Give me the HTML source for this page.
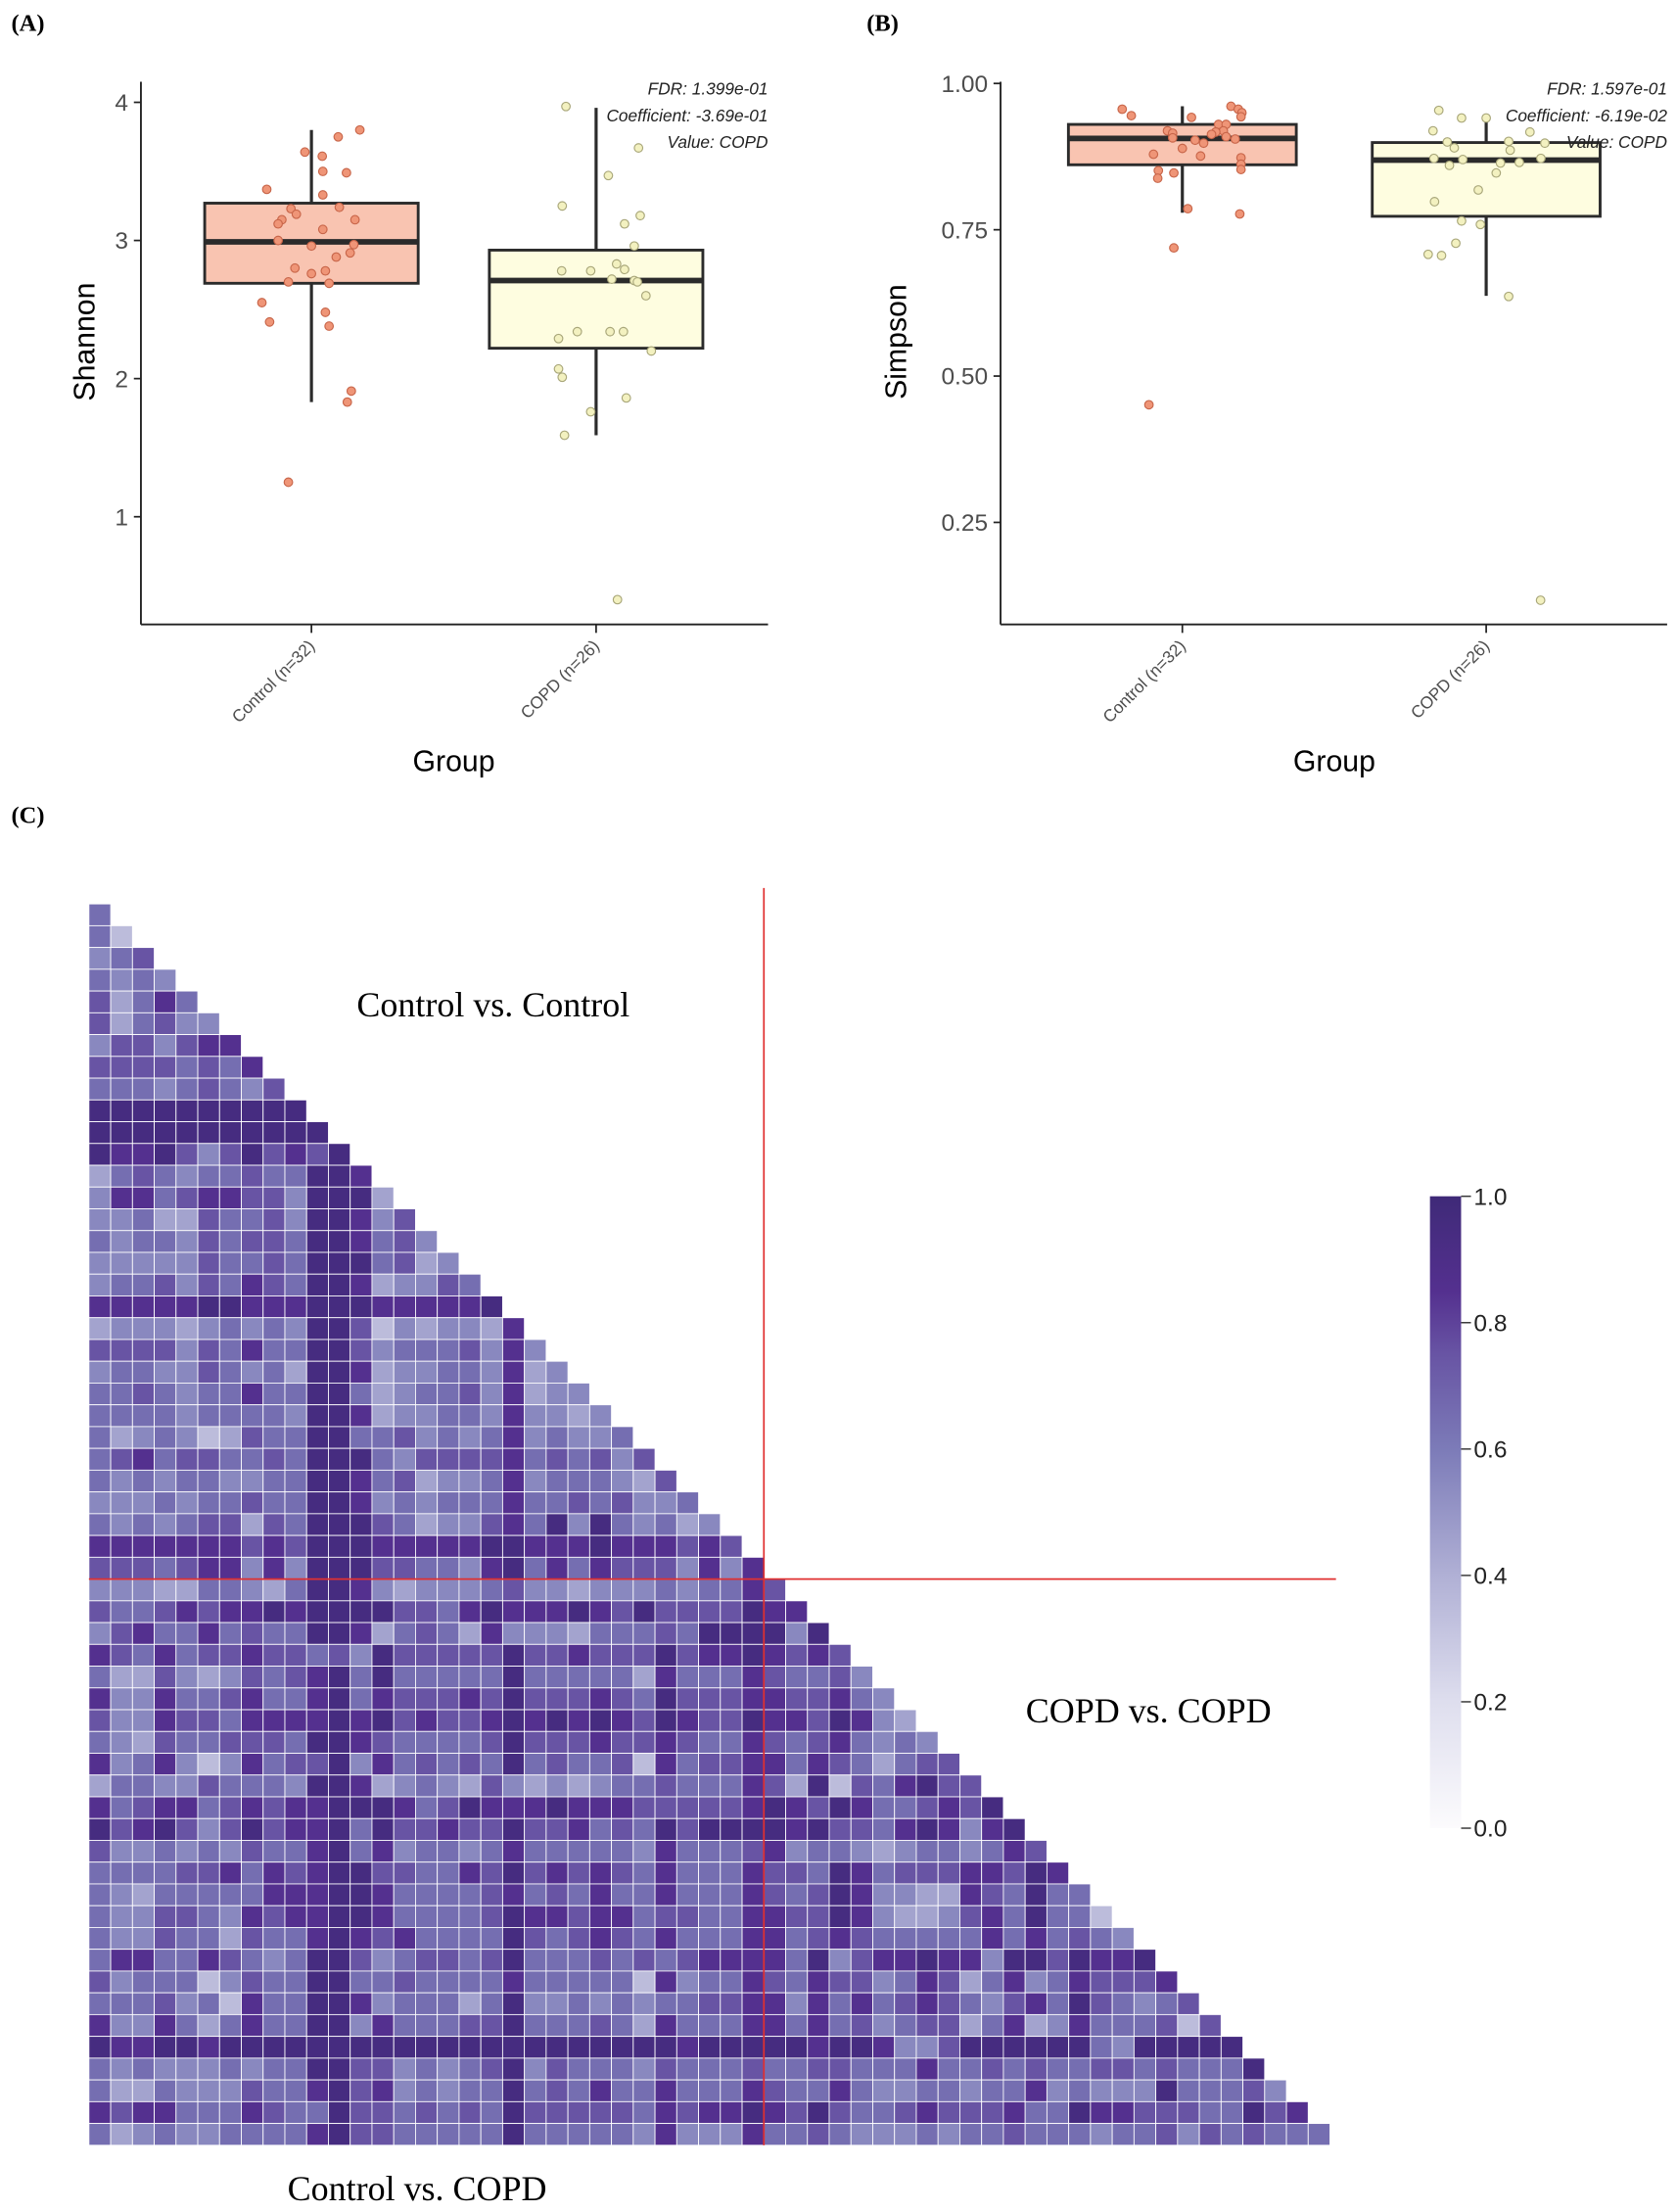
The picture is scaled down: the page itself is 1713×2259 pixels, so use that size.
<!DOCTYPE html>
<html><head><meta charset="utf-8"><style>
html,body{margin:0;padding:0;background:#fff}
svg{display:block}
.t{font-family:"Liberation Sans",sans-serif;fill:#4d4d4d}
.s{font-family:"Liberation Serif",serif;fill:#000}
</style></head><body>
<svg id="fig" xmlns="http://www.w3.org/2000/svg" width="1713" height="2259" viewBox="0 0 1190 1569.3" preserveAspectRatio="none">
<rect width="1190" height="1570" fill="#fff"/>
<g id="pa"></g>
<g id="pb"></g>
<g id="pc"></g>
</svg>
<script>
const groups=["Control (n=32)","COPD (n=26)"];
const shanCtrl=[3.80,3.75,3.64,3.61,3.50,3.49,3.37,3.33,3.24,3.23,3.19,3.15,3.15,3.12,3.08,3.00,2.97,2.96,2.91,2.88,2.80,2.78,2.76,2.70,2.69,2.55,2.48,2.41,2.38,1.91,1.83,1.25];
const shanCtrlJit=[0.17,0.094,-0.023,0.038,0.04,0.123,-0.157,0.04,0.098,-0.072,-0.053,-0.104,0.153,-0.117,0.04,-0.117,0.149,0,0.136,0.087,-0.058,0.049,0,-0.081,0.062,-0.174,0.049,-0.147,0.062,0.14,0.126,-0.081];
const shanCopd=[3.97,3.67,3.47,3.25,3.18,3.12,2.96,2.83,2.78,2.78,2.79,2.72,2.71,2.70,2.60,2.34,2.34,2.34,2.29,2.20,2.07,2.01,1.86,1.76,1.59,0.40];
const shanCopdJit=[-0.106,0.149,0.043,-0.119,0.155,0.10,0.134,0.072,-0.121,-0.019,0.10,0.055,0.134,0.145,0.175,-0.066,0.049,0.096,-0.132,0.194,-0.132,-0.119,0.106,-0.019,-0.111,0.075];
const shanBox=[[1.83,2.69,2.99,3.27,3.80],[1.59,2.22,2.71,2.93,3.96]];
const shanTicks=[1,2,3,4];
const simpCtrl=[0.956,0.945,0.961,0.956,0.950,0.943,0.942,0.919,0.915,0.907,0.930,0.930,0.919,0.917,0.913,0.909,0.905,0.903,0.898,0.889,0.879,0.876,0.873,0.862,0.853,0.851,0.847,0.838,0.786,0.777,0.719,0.451];
const simpCtrlJit=[-0.198,-0.168,0.16,0.184,0.196,0.193,0.03,-0.049,-0.032,-0.032,0.119,0.144,0.135,0.11,0.096,0.144,0.174,0.042,0.07,0,-0.095,0.06,0.193,0.193,0.193,-0.079,-0.028,-0.081,0.018,0.189,-0.028,-0.11];
const simpCopd=[0.954,0.941,0.919,0.917,0.900,0.901,0.898,0.890,0.886,0.872,0.870,0.872,0.864,0.865,0.860,0.847,0.818,0.798,0.765,0.759,0.727,0.708,0.706,0.636,0.117,0.941];
const simpCopdJit=[-0.156,-0.081,-0.175,0.144,-0.128,0.074,0.193,-0.105,0.079,-0.172,-0.077,0.18,0.047,0.109,-0.121,0.033,-0.026,-0.17,-0.081,-0.019,-0.1,-0.191,-0.147,0.074,0.179,0];
const simpBox=[[0.779,0.861,0.906,0.930,0.961],[0.637,0.773,0.869,0.899,0.937]];
const simpTicks=["0.25","0.50","0.75","1.00"];
const annA=["FDR: 1.399e-01","Coefficient: -3.69e-01","Value: COPD"];
const annB=["FDR: 1.597e-01","Coefficient: -6.19e-02","Value: COPD"];
// heatmap rows: digit d -> value d/10+0.05
const heatRows=["6","63","567","6565","74686","746755","5775788","77776768","666567657","9999999999","99999999999","988975797879","4676566766998","58867887759994","556447667599857","6566576776998675","55555766769996745","566757687699845576","8888899888999888889","45554565659973545548","777757686699756667585","5665576564998455665845","66765668669964566758455","666656666599845566585545","6456534766996675656856556","67867766769996577778676757","656566556699867455685666547","5556566766998565666866767556","65656774769997645578695965645","888888878799988888998889888787","7776788585999776658968687775858",
"5554466546998"+"5455567554555656"+"6"+"87",
"7667878898999"+"9776898889879777"+"7"+"988",
"5786686766998"+"4676485554666769"+"9"+"9959",
"8768677877675"+"9777779778777978"+"8"+"98787",
"6447545767896"+"9666669666664866"+"6"+"876675",
"8558667866896"+"8777879777876977"+"7"+"8877865",
"7558776888898"+"9787789898987987"+"7"+"98879854",
"6547667776998"+"7666679777877876"+"6"+"876786565",
"8568535867795"+"8676769676673867"+"7"+"8868764677",
"4665576665998"+"4565475454566766"+"6"+"87493768977",
"8678867878899"+"9867988898887777"+"7"+"898798667879",
"9789757978896"+"9778779778676979"+"9"+"9989776898589",
"7556565766896"+"8566568666665866"+"6"+"78566545665687",
"6666778687899"+"7766879787876866"+"6"+"877698677788798",
"6546666688899"+"8666678676866866"+"6"+"8767985544876966",
"6557765878899"+"8666679887886776"+"6"+"88779854457869663",
"6557664766898"+"7866669767876866"+"6"+"886787666668686765",
"6886687656997"+"5677679666767678"+"8"+"8869578898859979889",
"7566635766996"+"6766668666663856"+"6"+"87687756874685687778",
"6667563866998"+"5666469556565667"+"7"+"885868678765786976567",
"8558646866995"+"8666779666764866"+"6"+"8868675677468458666737",
"9889989999999"+"9999999999999989"+"9"+"99989985579999996599999",
"6565556566997"+"7565679576665766"+"6"+"766776668667676677676669",
"6446555766897"+"8565669676866866"+"6"+"8766865566566856555966675",
"8788666876697"+"7676769777776878"+"8"+"98797667877786698877766978",
"6456556666897"+"7666669666665855"+"5"+"866765556566766656675767666"];
const cbTicks=["0.0","0.2","0.4","0.6","0.8","1.0"];
const nCtrlRows=31;

const NS="http://www.w3.org/2000/svg";
function mk(tag,attrs,parent,txt){const e=document.createElementNS(NS,tag);for(const k in attrs)e.setAttribute(k,attrs[k]);if(txt!==undefined)e.textContent=txt;parent.appendChild(e);return e;}

function boxPanel(g,cfg){
  const {x0,x1,yTop,yBot,cx,sp,yv,ticks,tickVals,ylab,ylabX,box,pts,jit,ann,fills,strokes}=cfg;
  let l=mk('line',{x1:x0,y1:yTop,x2:x0,y2:yBot,stroke:'#222','stroke-width':1.3},g);
  
  
  l=mk('line',{x1:x0,y1:yBot,x2:x1,y2:yBot,stroke:'#222','stroke-width':1.3},g);
  
  
  ticks.forEach((t,i)=>{const y=yv(tickVals[i]);
    let tk=mk('line',{x1:x0-5,y1:y,x2:x0,y2:y,stroke:'#222','stroke-width':1.2},g);
    
    
    let tl=mk('text',{x:x0-9,y:y+6,'text-anchor':'end','font-size':17,class:'t'},g,t);
    
    
  });
  groups.forEach((gn,k)=>{const x=cx(k);
    let tk=mk('line',{x1:x,y1:yBot,x2:x,y2:yBot+6,stroke:'#222','stroke-width':1.2},g);
    
    
    let tl=mk('text',{x:x+3,y:yBot+16,'text-anchor':'end','font-size':12,class:'t',transform:`rotate(-45 ${x+3} ${yBot+16})`},g,gn);
    
    
    const b=box[k],hw=sp*0.375;
    let w=mk('line',{x1:x,y1:yv(b[0]),x2:x,y2:yv(b[4]),stroke:'#2b2b2b','stroke-width':2.2},g);
    
    
    let r=mk('rect',{x:x-hw,y:yv(b[3]),width:2*hw,height:yv(b[1])-yv(b[3]),fill:fills[k],stroke:'#2b2b2b','stroke-width':2},g);
    
    
    let m=mk('line',{x1:x-hw,y1:yv(b[2]),x2:x+hw,y2:yv(b[2]),stroke:'#2b2b2b','stroke-width':4},g);
    
    
    pts[k].forEach((v,i)=>{
      let c=mk('circle',{cx:x+jit[k][i]*sp,cy:yv(v),r:3,fill:fills[k==0?2:3],stroke:strokes[k],'stroke-width':0.8},g);
      
      
    });
  });
  let yl=mk('text',{x:ylabX,y:(yTop+yBot)/2-8,'text-anchor':'middle','font-size':21,fill:'#000','font-family':'Liberation Sans,sans-serif',transform:`rotate(-90 ${ylabX} ${(yTop+yBot)/2-8})`},g,ylab);
  
  
  let xl=mk('text',{x:(cx(0)+cx(1))/2,y:547,'text-anchor':'middle','font-size':21,fill:'#000','font-family':'Liberation Sans,sans-serif'},g,'Group');
  
  
  ann.forEach((a,i)=>{
    let t=mk('text',{x:x1,y:67+i*19,'text-anchor':'end','font-size':12,'font-style':'italic',fill:'#222','font-family':'Liberation Sans,sans-serif'},g,a);
    
    
  });
}
const fills=['#f9c4b1','#fefde0','#ef9577','#f3f1c0'];
const strokes=['#c8664a','#a9a77a'];
// Panel A
boxPanel(document.getElementById('pa'),{x0:100,x1:545,yTop:58,yBot:443,cx:k=>221+k*202,sp:202,
  yv:v=>366.6-(v-1)*98.0,ticks:shanTicks.map(String),tickVals:shanTicks,ylab:'Shannon',ylabX:67,
  box:shanBox,pts:[shanCtrl,shanCopd],jit:[shanCtrlJit,shanCopdJit],ann:annA,fills,strokes});
// Panel B
boxPanel(document.getElementById('pb'),{x0:710,x1:1183,yTop:58,yBot:443,cx:k=>839+k*215.6,sp:215.6,
  yv:v=>59.2+(1-v)/0.25*103.8,ticks:simpTicks,tickVals:simpTicks.map(Number),ylab:'Simpson',ylabX:643,
  box:simpBox,pts:[simpCtrl,simpCopd],jit:[simpCtrlJit,simpCopdJit],ann:annB,fills,strokes});
[['(A)',8,22],['(B)',615,22],['(C)',8,584]].forEach(([t,x,y])=>{
  let e=mk('text',{x,y,'font-size':17,'font-weight':'bold',class:'s'},document.getElementById('fig'),t);
  
  
});
// Heatmap
const stops=[[0,[252,251,253]],[0.2,[222,222,238]],[0.4,[176,176,213]],[0.6,[124,123,184]],[0.75,[104,84,164]],[0.85,[84,48,143]],[1,[63,42,120]]];
function col(v){for(let i=1;i<stops.length;i++){if(v<=stops[i][0]){const a=stops[i-1],b=stops[i],t=(v-a[0])/(b[0]-a[0]);return 'rgb('+a[1].map((c,k)=>Math.round(c+(b[1][k]-c)*t)).join(',')+')';}}return 'rgb(63,42,120)';}
const pc=document.getElementById('pc');
const hx0=63.1,hy0=641.3,hc=15.45;
const hxs=j=>hx0+j*hc, hys=r=>hy0+r*hc;
heatRows.forEach((row,r)=>{
  const n=Math.min(row.length,r+1);
  for(let j=0;j<n;j++){
    const v=(+row[j])/10+0.05;
    let c=mk('rect',{x:hxs(j),y:hys(r),width:hc,height:hc,fill:col(v),stroke:'#fff','stroke-width':0.6},pc);
    
    
  }
});
const nR=heatRows.length;
let rl=mk('line',{x1:hxs(nCtrlRows),y1:630,x2:hxs(nCtrlRows),y2:hys(nR),stroke:'#e03030','stroke-width':1.2},pc);


rl=mk('line',{x1:hx0,y1:hys(nCtrlRows),x2:948,y2:hys(nCtrlRows),stroke:'#e03030','stroke-width':1.2},pc);


[['Control vs. Control',350,721],['COPD vs. COPD',815,1222],['Control vs. COPD',296,1561]].forEach(([t,x,y])=>{
  let e=mk('text',{x,y,'text-anchor':'middle','font-size':25,class:'s'},pc,t);
  
  
});
// colorbar
const defs=mk('defs',{},pc);
const lg=mk('linearGradient',{id:'cbg',x1:0,y1:1,x2:0,y2:0},defs);
stops.forEach(s=>mk('stop',{offset:s[0],'stop-color':col(s[0]===0?0:s[0]-1e-9)},lg));
const cbT=848.7,cbB=1297,cbX=1014.7,cbW=22.1;
let cb=mk('rect',{x:cbX,y:cbT,width:cbW,height:cbB-cbT,fill:'url(#cbg)'},pc);


cbTicks.forEach(t=>{const y=cbB-(+t)*(cbB-cbT);
  let l=mk('line',{x1:cbX+cbW,y1:y,x2:cbX+cbW+7,y2:y,stroke:'#333','stroke-width':1},pc);
  
  
  let e=mk('text',{x:cbX+cbW+9,y:y+6,'font-size':17,fill:'#222','font-family':'Liberation Sans,sans-serif'},pc,t);
  
  
});
</script>
</body></html>
